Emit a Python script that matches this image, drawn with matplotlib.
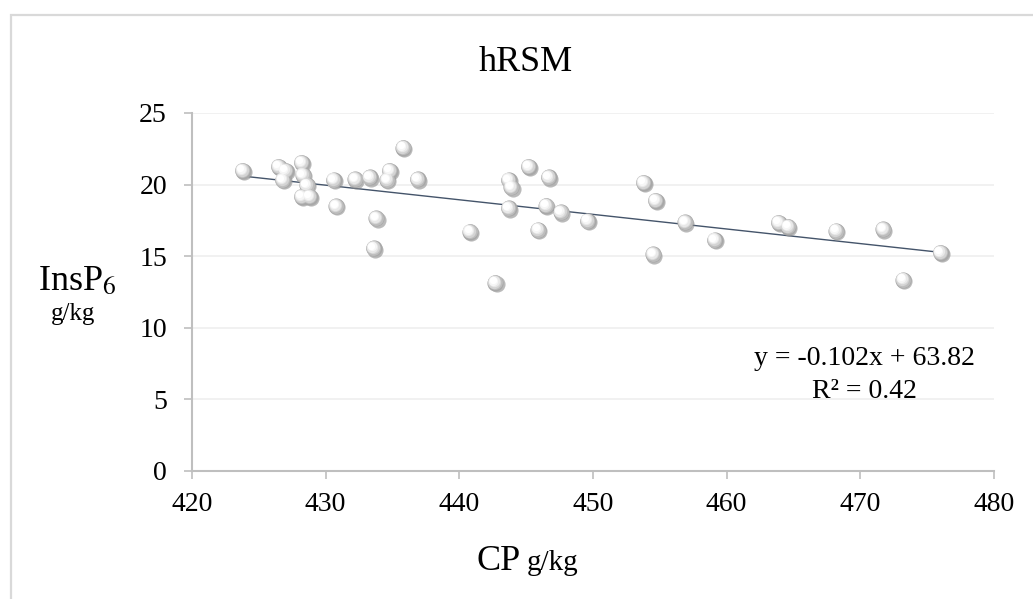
import matplotlib
matplotlib.use("Agg")
import matplotlib.pyplot as plt
import matplotlib.transforms as mtransforms
from matplotlib.patches import Rectangle
import numpy as np

# values
cp = [423.8, 426.5, 427.0, 426.8, 428.2, 428.3, 428.6, 428.2, 428.8, 430.6,
      430.8, 432.2, 433.3, 434.8, 434.6, 433.8, 433.6, 435.8, 436.9, 440.8,
      442.7, 443.7, 443.9, 443.7, 445.2, 446.7, 445.9, 446.5, 447.6, 449.6,
      453.8, 454.7, 454.5, 456.9, 459.1, 463.9, 464.6, 468.2, 471.7, 476.0,
      473.2]
insp6 = [20.97, 21.25, 20.97, 20.32, 21.53, 20.67, 19.97, 19.16, 19.16, 20.32,
         18.50, 20.37, 20.51, 20.97, 20.32, 17.65, 15.55, 22.58, 20.37, 16.71,
         13.15, 20.32, 19.81, 18.34, 21.25, 20.51, 16.83, 18.53, 18.07, 17.46,
         20.13, 18.88, 15.13, 17.37, 16.13, 17.34, 17.06, 16.76, 16.88, 15.25,
         13.34]
slope = -0.102
intercept = 63.82
r2 = 0.42
xticks = [420, 430, 440, 450, 460, 470, 480]
yticks = [0, 5, 10, 15, 20, 25]

plt.rcParams['font.family'] = ['Liberation Serif', 'DejaVu Serif']
plt.rcParams['mathtext.fontset'] = 'stix'

W, H = 1033, 599
fig = plt.figure(figsize=(W / 100, H / 100), dpi=100)
ax = fig.add_axes([192 / W, 1 - 471 / H, (994 - 192) / W, (471 - 113) / H])

# outer chart frame (runs off right and bottom)
fig.patches.append(Rectangle((11 / W, -0.1), 1.2, 1 - 15 / H + 0.1,
                             transform=fig.transFigure, fill=False,
                             edgecolor='#d9d9d9', linewidth=1.6))

ax.set_xlim(420, 480)
ax.set_ylim(0, 25)
ax.set_xticks(xticks)
ax.set_yticks(yticks)
ax.grid(axis='y', color='#efefef', linewidth=1.2)
ax.set_axisbelow(True)
for s in ['top', 'right']:
    ax.spines[s].set_visible(False)
for s in ['left', 'bottom']:
    ax.spines[s].set_color('#bfbfbf')
    ax.spines[s].set_linewidth(1.5)
ax.tick_params(axis='both', direction='out', length=6, width=1.2,
               color='#bfbfbf', labelsize=20, labelcolor='black')
ax.tick_params(axis='y', pad=12)
ax.tick_params(axis='x', pad=9)

# trendline
xl = np.array([min(cp), max(cp)])
ax.plot(xl, slope * xl + intercept, color='#44546a', linewidth=1.0, zorder=2)

# shaded sphere markers
size = 135
def off(dx, dy):
    return mtransforms.offset_copy(ax.transData, fig=fig, x=dx, y=dy, units='points')

ax.scatter(cp, insp6, s=size, color='#8c8c8c', alpha=0.6, linewidths=0,
           transform=off(0.8, -1.0), zorder=3)
ax.scatter(cp, insp6, s=size, color='#a8a8a8', linewidths=0, zorder=4)
layers = [('#bdbdbd', 0.85, -0.3, 0.3), ('#d4d4d4', 0.68, -0.7, 0.7),
          ('#e8e8e8', 0.5, -1.1, 1.1), ('#f6f6f6', 0.33, -1.5, 1.5),
          ('#ffffff', 0.2, -1.8, 1.8)]
for i, (c, f, dx, dy) in enumerate(layers):
    ax.scatter(cp, insp6, s=size * f, color=c, linewidths=0,
               transform=off(dx, dy), zorder=5 + i)

# text
fig.text(526 / W, 1 - 71 / H, 'hRSM', ha='center', va='baseline', fontsize=26)
fig.text(38 / W, 1 - 290 / H, r'InsP$_6$', ha='left', va='baseline', fontsize=26)
fig.text(73 / W, 1 - 320 / H, 'g/kg', ha='center', va='baseline', fontsize=18)
fig.text(521 / W, 1 - 570 / H, 'CP', ha='right', va='baseline', fontsize=26)
fig.text(527 / W, 1 - 570 / H, 'g/kg', ha='left', va='baseline', fontsize=21)
ax.text(0.838, 0.296, f'y = {slope}x + {intercept}', transform=ax.transAxes,
        ha='center', va='baseline', fontsize=20)
ax.text(0.838, 0.204, f'R² = {r2}', transform=ax.transAxes,
        ha='center', va='baseline', fontsize=20)

fig.savefig('out.png', dpi=100)
